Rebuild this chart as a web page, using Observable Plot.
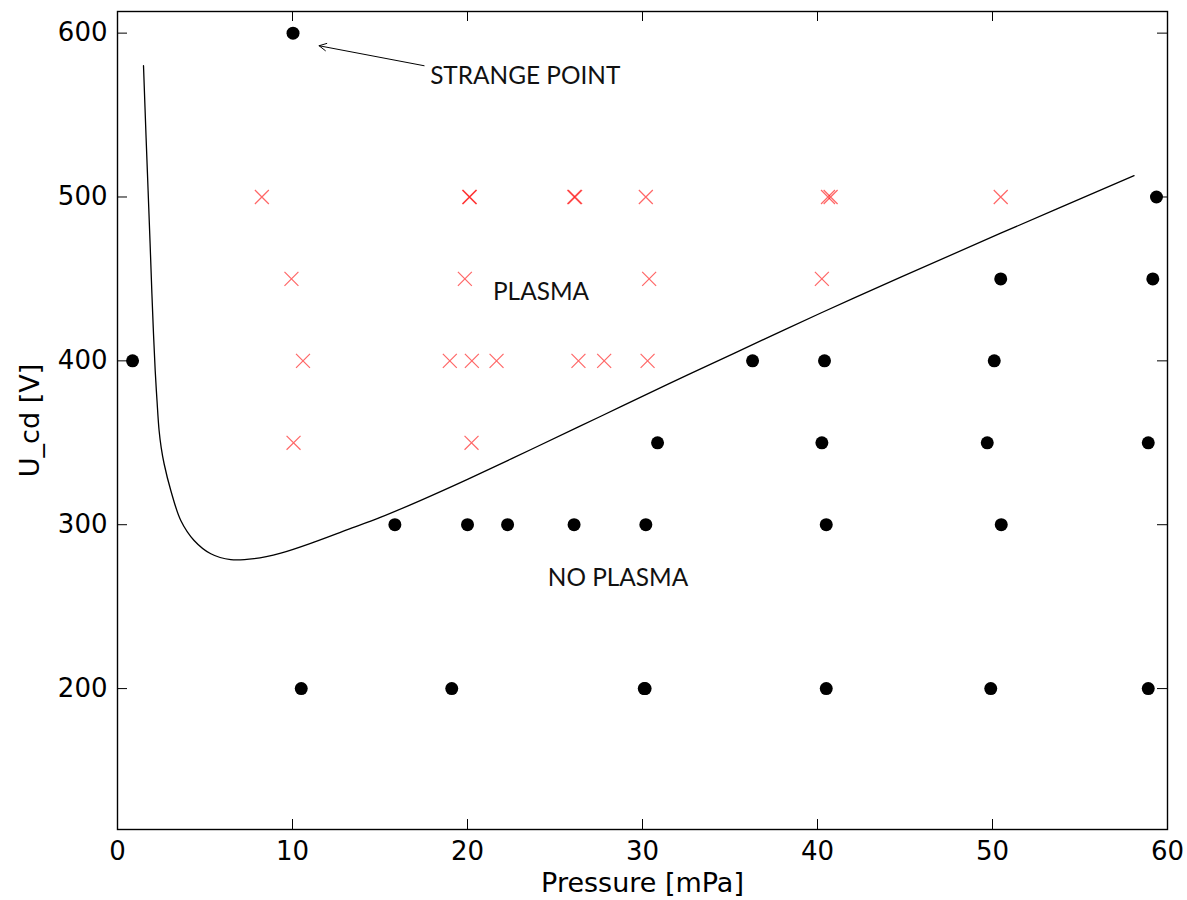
<!DOCTYPE html>
<html>
<head>
<meta charset="utf-8">
<script src="https://cdn.jsdelivr.net/npm/d3@7"></script>
<script src="https://cdn.jsdelivr.net/npm/@observablehq/plot@0.6"></script>
<style>
  html, body { margin: 0; padding: 0; background: white; }
  #chart { width: 1187px; height: 900px; }
</style>
</head>
<body>
<div id="chart"></div>
<script>
// ---- Data ----
const pressureTicks = [0, 10, 20, 30, 40, 50, 60];
const voltageTicks = [200, 300, 400, 500, 600];

// "No plasma" measurements (black dots)
const noPlasmaP = [10.03, 0.86, 15.85, 20.0, 22.29, 26.09, 30.19, 36.29, 30.86, 40.4, 40.25, 40.5, 50.1, 49.7, 50.5, 58.9, 50.47, 59.16, 59.37, 10.5, 19.1, 30.1, 30.15, 40.5, 49.9, 58.9];
const noPlasmaU = [600, 400, 300, 300, 300, 300, 300, 400, 350, 400, 350, 300, 400, 350, 300, 350, 450, 450, 500, 200, 200, 200, 200, 200, 200, 200];

// "Plasma" measurements (red crosses)
const plasmaP = [8.25, 20.13, 20.1, 26.15, 26.1, 30.19, 40.6, 40.75, 50.47,
                 9.94, 19.85, 30.38, 40.25,
                 10.6, 18.99, 20.25, 21.66, 26.34, 27.81, 30.29,
                 10.06, 20.23];
const plasmaU = [500, 500, 500, 500, 500, 500, 500, 500, 500,
                 450, 450, 450, 450,
                 400, 400, 400, 400, 400, 400, 400,
                 350, 350];

// Breakdown (Paschen-like) curve
const curveP = [1.486, 1.634, 1.749, 1.863, 1.966, 2.057, 2.154, 2.257, 2.377, 2.497, 2.663, 3.046, 3.617, 4.377, 5.331, 6.474, 7.806, 9.331, 11.23, 13.14, 15.05, 17.33, 20.0, 23.81, 27.62, 31.43, 35.23, 40.19, 44.76, 50.47, 58.09];
const curveU = [580.1, 536.2, 503.8, 471.5, 441.0, 416.6, 394.1, 375.8, 357.5, 347.1, 337.2, 320.9, 302.6, 290.4, 282.3, 278.7, 279.3, 282.7, 289.4, 297.0, 304.6, 314.9, 327.7, 346.8, 366.2, 385.6, 404.6, 429.2, 451.1, 477.9, 513.0];

// Annotations
const noteText = ["STRANGE POINT", "PLASMA", "NO PLASMA"];
const noteP = [23.3, 24.2, 28.6];
const noteU = [573.7, 441.8, 267.4];
const arrowTail = [17.52, 580.1];
const arrowHead = [11.52, 592.3];

// ---- Tables ----
const noPlasma = noPlasmaP.map((p, i) => ({p, u: noPlasmaU[i]}));
const plasma = plasmaP.map((p, i) => ({p, u: plasmaU[i]}));
const curve = curveP.map((p, i) => ({p, u: curveU[i]}));
const notes = noteText.map((t, i) => ({t, p: noteP[i], u: noteU[i]}));
const arrows = [{x1: arrowTail[0], y1: arrowTail[1], x2: arrowHead[0], y2: arrowHead[1]}];

const W = 1187, H = 900;
const mL = 117, mR = 20, mT = 11, mB = 71;
const plotW = W - mL - mR, plotH = H - mT - mB;
const tickLen = 10;

const chart = Plot.plot({
  width: W,
  height: H,
  marginLeft: mL,
  marginRight: mR,
  marginTop: mT,
  marginBottom: mB,
  style: {fontFamily: "DejaVu Sans", background: "white", color: "black"},
  x: {domain: [0, 60]},
  y: {domain: [114, 613.2]},
  marks: [
    // inward ticks on all four sides
    Plot.ruleX(pressureTicks, {x: d => d, insetTop: plotH - tickLen, stroke: "black", strokeWidth: 1}),
    Plot.ruleX(pressureTicks, {x: d => d, insetBottom: plotH - tickLen, stroke: "black", strokeWidth: 1}),
    Plot.ruleY(voltageTicks, {y: d => d, insetRight: plotW - tickLen, stroke: "black", strokeWidth: 1}),
    Plot.ruleY(voltageTicks, {y: d => d, insetLeft: plotW - tickLen, stroke: "black", strokeWidth: 1}),
    Plot.axisX(pressureTicks, {tickSize: 0, tickPadding: 12, fontSize: 26, label: null}),
    Plot.axisY(voltageTicks, {tickSize: 0, tickPadding: 10, fontSize: 26, label: null}),
    Plot.text(["Pressure [mPa]"], {text: d => d, frameAnchor: "bottom", dy: 54, textAnchor: "middle", lineAnchor: "middle", fontSize: 27}),
    Plot.text(["U_cd [V]"], {text: d => d, frameAnchor: "left", dx: -87, rotate: -90, textAnchor: "middle", lineAnchor: "middle", fontSize: 27}),
    Plot.line(curve, {x: "p", y: "u", curve: "catmull-rom", stroke: "black", strokeWidth: 1.3}),
    Plot.dot(plasma, {x: "p", y: "u", symbol: "times", r: 6.4, stroke: "#ff0000", strokeOpacity: 0.6, strokeWidth: 1.2}),
    Plot.dot(noPlasma, {x: "p", y: "u", r: 6.5, fill: "black", stroke: null}),
    Plot.arrow(arrows, {x1: "x1", y1: "y1", x2: "x2", y2: "y2", stroke: "black", strokeWidth: 1, headLength: 12, headAngle: 55}),
    Plot.text(notes, {x: "p", y: "u", text: "t", fontFamily: "Lato", fontSize: 24.4, fill: "#111", lineAnchor: "middle"}),
    Plot.frame({stroke: "black", strokeWidth: 1.4})
  ]
});
document.getElementById("chart").appendChild(chart);
</script>
</body>
</html>
